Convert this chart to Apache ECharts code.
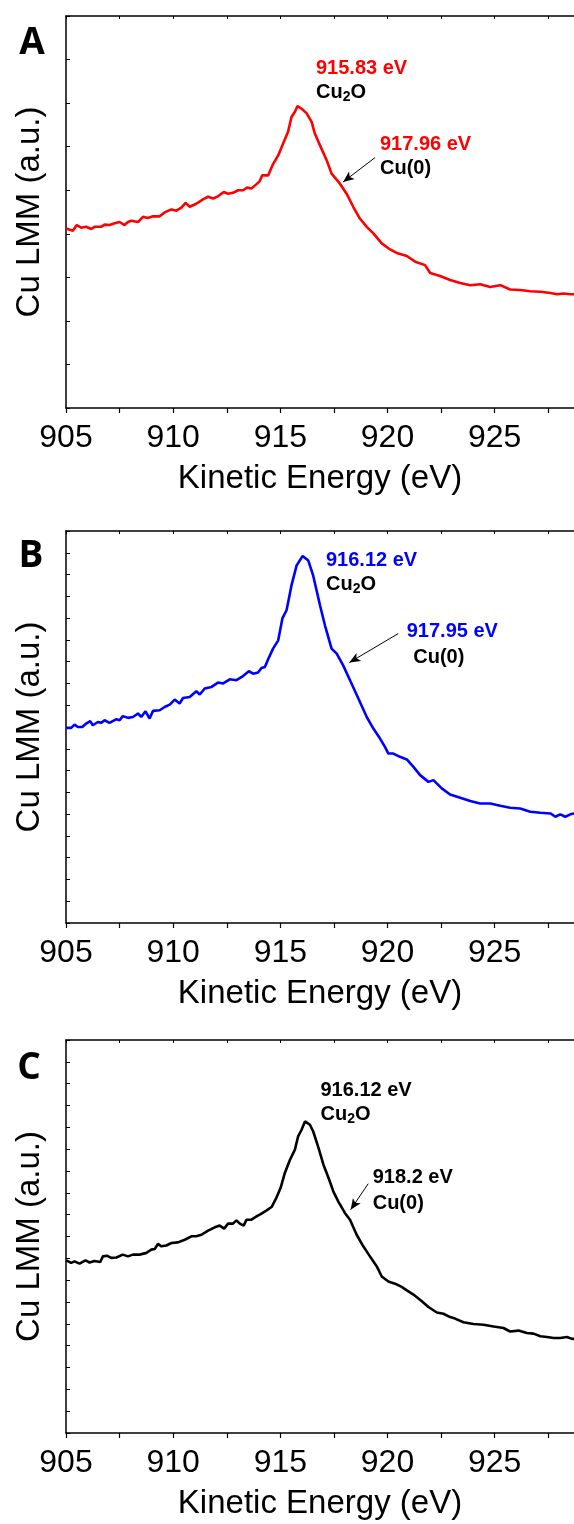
<!DOCTYPE html>
<html>
<head>
<meta charset="utf-8">
<title>Cu LMM</title>
<script src="https://cdn.jsdelivr.net/npm/echarts@6/dist/echarts.min.js"></script>
<style>
  html, body { margin: 0; padding: 0; background: #fff; }
  #chart { width: 574px; height: 1524px; }
</style>
</head>
<body>
<div id="chart"></div>
<script>
// panel A (red)
const energyA = [905.01,905.32,905.50,905.71,905.94,906.18,906.33,906.64,906.80,907.03,907.27,907.50,907.73,907.89,908.05,908.36,908.59,908.82,909.06,909.37,909.60,909.92,910.15,910.38,910.58,910.77,911.08,911.39,911.63,911.86,912.09,912.36,912.56,912.79,913.03,913.26,913.45,913.65,913.89,914.04,914.15,914.43,914.66,914.90,915.13,915.36,915.52,915.68,915.80,915.99,916.22,916.46,916.61,916.85,917.16,917.39,917.78,918.09,918.40,918.71,919.03,919.34,919.73,920.12,920.43,920.90,921.29,921.75,921.99,922.45,922.92,923.39,923.86,924.32,924.79,925.26,925.72,926.19,926.66,927.13,927.60,927.91,928.21,928.53,928.71];
const countsA = [4.12,4.07,4.20,4.14,4.16,4.11,4.16,4.16,4.21,4.20,4.24,4.27,4.20,4.27,4.30,4.27,4.39,4.36,4.40,4.40,4.49,4.56,4.53,4.60,4.71,4.62,4.69,4.79,4.85,4.81,4.86,4.96,4.92,4.94,5.00,5.00,5.06,5.04,5.14,5.21,5.34,5.34,5.60,5.80,6.07,6.34,6.68,6.80,6.93,6.87,6.77,6.57,6.30,6.03,5.69,5.38,5.15,4.92,4.62,4.35,4.16,4.01,3.78,3.64,3.56,3.49,3.36,3.28,3.10,3.03,2.94,2.87,2.82,2.84,2.78,2.82,2.72,2.71,2.68,2.67,2.64,2.61,2.63,2.61,2.61];

// panel B (blue)
const energyB = [905.01,905.24,905.40,905.55,905.76,905.94,906.13,906.25,906.49,906.64,906.80,907.03,907.35,907.50,907.65,907.89,908.12,908.36,908.51,908.71,908.90,909.06,909.37,909.60,909.84,910.07,910.30,910.46,910.77,911.08,911.24,911.47,911.79,912.09,912.33,912.64,912.95,913.26,913.53,913.73,913.96,914.12,914.28,914.43,914.66,914.90,915.10,915.29,915.52,915.76,916.04,916.30,916.53,916.85,917.08,917.39,917.63,917.93,918.25,918.64,919.03,919.34,919.65,919.88,920.04,920.27,920.58,920.90,921.21,921.52,921.91,922.14,922.53,922.92,923.39,923.86,924.32,924.79,925.26,925.72,926.19,926.66,927.13,927.60,927.83,928.06,928.29,928.53,928.71];
const countsB = [8.96,8.96,9.11,9.00,9.00,9.16,9.27,9.08,9.23,9.19,9.31,9.19,9.36,9.31,9.50,9.42,9.46,9.62,9.46,9.72,9.39,9.74,9.77,9.92,10.03,10.26,10.08,10.33,10.38,10.64,10.49,10.77,10.84,11.04,11.00,11.19,11.15,11.34,11.56,11.45,11.50,11.71,11.76,12.11,12.60,12.98,14.00,14.36,15.50,16.42,16.85,16.65,15.96,14.59,13.67,12.60,12.37,11.83,11.15,10.31,9.46,8.93,8.47,8.09,7.78,7.78,7.63,7.51,7.17,6.79,6.48,6.56,6.18,5.90,5.75,5.60,5.49,5.49,5.38,5.29,5.26,5.11,5.06,5.03,4.88,4.99,4.88,4.99,5.03];

// panel C (black)
const energyC = [905.01,905.24,905.40,905.63,905.91,906.10,906.33,906.60,906.72,906.91,907.11,907.35,907.65,907.89,908.12,908.43,908.75,908.98,909.14,909.29,909.45,909.68,909.92,910.22,910.54,910.85,911.08,911.32,911.63,911.94,912.17,912.38,912.56,912.79,912.95,913.11,913.29,913.42,913.65,913.89,914.12,914.36,914.59,914.79,915.01,915.21,915.44,915.68,915.83,915.99,916.15,916.23,916.38,916.53,916.78,917.01,917.25,917.47,917.70,918.01,918.25,918.56,918.87,919.18,919.50,919.73,920.04,920.35,920.66,920.90,921.21,921.60,921.91,922.30,922.61,922.92,923.15,923.54,924.01,924.48,924.95,925.41,925.72,926.11,926.50,926.81,927.13,927.44,927.75,928.06,928.37,928.61,928.71];
const countsC = [7.91,7.79,7.86,7.76,7.91,7.81,7.88,7.83,8.09,8.12,8.02,8.04,8.17,8.09,8.17,8.17,8.25,8.40,8.43,8.66,8.55,8.59,8.70,8.73,8.85,9.01,9.01,9.08,9.27,9.42,9.50,9.36,9.59,9.59,9.74,9.59,9.50,9.77,9.77,9.92,10.05,10.20,10.35,10.72,11.22,11.91,12.49,12.98,13.59,13.89,14.27,14.20,14.12,13.82,13.06,12.29,11.68,11.07,10.61,10.08,9.77,9.08,8.55,8.09,7.63,7.17,6.94,6.84,6.69,6.53,6.34,6.03,5.77,5.52,5.46,5.31,5.24,5.07,4.99,4.96,4.88,4.81,4.65,4.69,4.58,4.55,4.43,4.40,4.35,4.35,4.40,4.31,4.31];

// axes
const xMin = 905, xMax = 928.7, xStep = 2.5;
const yMaxA = 9, yMaxB = 18, yMaxC = 18;

// annotations
const peakLabels = ['915.83 eV', '916.12 eV', '916.12 eV'];
const metalLabels = ['917.96 eV', '917.95 eV', '918.2 eV'];
const panelLetters = ['A', 'B', 'C'];
// arrow start / end in data units
const arrowsA = [[919.42, 5.75], [917.93, 5.19]];
const arrowsB = [[920.50, 13.29], [918.22, 11.96]];
const arrowsC = [[919.10, 11.42], [918.28, 10.23]];

const FONT = "'Liberation Sans', Arial, sans-serif";
const chart = echarts.init(document.getElementById('chart'), null, { renderer: 'canvas' });

const panels = [
    { top: 16, height: 392, yMax: yMaxA, x: energyA, y: countsA, color: '#ff0000', arrow: arrowsA },
    { top: 531, height: 392, yMax: yMaxB, x: energyB, y: countsB, color: '#0000ff', arrow: arrowsB },
    { top: 1040, height: 393, yMax: yMaxC, x: energyC, y: countsC, color: '#000000', arrow: arrowsC }
];

const grids = [], xAxes = [], yAxes = [], series = [];

panels.forEach((p, i) => {
    grids.push({ left: 66, top: p.top, width: 508, height: p.height, outerBoundsMode: 'none', containLabel: false });

    // bottom axis with labels
    xAxes.push({
        gridIndex: i, type: 'value', position: 'bottom', min: xMin, max: xMax, interval: xStep,
        name: 'Kinetic Energy (eV)', nameLocation: 'middle', nameGap: 54,
        nameTextStyle: { fontFamily: FONT, fontSize: 33, color: '#000' },
        axisLine: { show: true, onZero: false, lineStyle: { color: '#000', width: 1.5 } },
        axisTick: { show: true, inside: false, length: 5, lineStyle: { color: '#000', width: 1.2 } },
        axisLabel: {
            fontFamily: FONT, fontSize: 32, color: '#000', margin: 14, showMaxLabel: false,
            formatter: v => (Math.abs(v % 5) < 1e-6 ? String(v) : '')
        },
        splitLine: { show: false }
    });
    // top frame
    xAxes.push({
        gridIndex: i, type: 'value', position: 'top', min: xMin, max: xMax, interval: xStep,
        axisLine: { show: true, onZero: false, lineStyle: { color: '#000', width: 1.5 } },
        axisTick: { show: true, inside: true, length: 3, lineStyle: { color: '#000', width: 1 } },
        axisLabel: { show: false },
        splitLine: { show: false }
    });

    yAxes.push({
        gridIndex: i, type: 'value', min: 0, max: p.yMax, interval: 1,
        name: 'Cu LMM (a.u.)', nameLocation: 'middle', nameGap: 20,
        nameTextStyle: { fontFamily: FONT, fontSize: 33, color: '#000' },
        axisLine: { show: true, onZero: false, lineStyle: { color: '#000', width: 1.5 } },
        axisTick: { show: true, inside: true, length: 4, lineStyle: { color: '#000', width: 1 } },
        axisLabel: { show: false },
        splitLine: { show: false }
    });

    series.push({
        type: 'line',
        xAxisIndex: i * 2,
        yAxisIndex: i,
        data: p.x.map((e, k) => [e, p.y[k]]),
        showSymbol: false,
        symbol: 'none',
        lineStyle: { color: p.color, width: 2.6 },
        clip: true,
        silent: true,
        markLine: {
            silent: true,
            symbol: ['none', 'arrow'],
            symbolSize: [7, 11],
            label: { show: false },
            lineStyle: { color: '#000', width: 1, type: 'solid' },
            data: [[{ coord: p.arrow[0] }, { coord: p.arrow[1] }]]
        }
    });
});

// text boxes: [x, capTop] for each label
const peakPos = [[316, 61.7], [326, 553.3], [320.5, 1083.3]];
const oxidePos = [[316, 86], [326, 578.3], [320.5, 1108.3]];
const metalPos = [[380, 137.3], [406.7, 624], [372.7, 1170.7]];
const zeroPos = [[380, 161.7], [413.3, 650], [372.7, 1196]];
const letterPos = [[32, 43.5], [31, 556.3], [29, 1068]];
const labelColors = ['#ff0000', '#0000ff', '#000000'];

const graphics = [];
const FS = 20;
for (let i = 0; i < 3; i++) {
    graphics.push({
        type: 'text', x: peakPos[i][0], y: peakPos[i][1] + 7.2,
        style: { text: peakLabels[i], fill: labelColors[i], fontFamily: FONT, fontSize: FS, fontWeight: 'bold', verticalAlign: 'middle', align: 'left' }
    });
    graphics.push({
        type: 'text', x: oxidePos[i][0], y: oxidePos[i][1] - 3.8,
        style: {
            text: '{m|Cu}{s|2}{m|O}', verticalAlign: 'top', align: 'left', fill: '#000',
            rich: {
                m: { fontFamily: FONT, fontSize: FS, fontWeight: 'bold', lineHeight: 22, verticalAlign: 'top', fill: '#000' },
                s: { fontFamily: FONT, fontSize: 14, fontWeight: 'bold', lineHeight: 8, verticalAlign: 'bottom', fill: '#000' }
            }
        }
    });
    graphics.push({
        type: 'text', x: metalPos[i][0], y: metalPos[i][1] + 7.2,
        style: { text: metalLabels[i], fill: labelColors[i], fontFamily: FONT, fontSize: FS, fontWeight: 'bold', verticalAlign: 'middle', align: 'left' }
    });
    graphics.push({
        type: 'text', x: zeroPos[i][0], y: zeroPos[i][1] + 7.2,
        style: { text: 'Cu(0)', fill: '#000', fontFamily: FONT, fontSize: FS, fontWeight: 'bold', verticalAlign: 'middle', align: 'left' }
    });
    graphics.push({
        type: 'text', x: letterPos[i][0], y: letterPos[i][1],
        style: { text: panelLetters[i], fill: '#000', fontFamily: "'Open Sans', 'Noto Sans', sans-serif", fontSize: 37, fontWeight: 'bold', verticalAlign: 'middle', align: 'center' }
    });
}

chart.setOption({
    backgroundColor: '#fff',
    animation: false,
    textStyle: { fontFamily: FONT },
    grid: grids,
    xAxis: xAxes,
    yAxis: yAxes,
    series: series,
    graphic: graphics
});
</script>
</body>
</html>
